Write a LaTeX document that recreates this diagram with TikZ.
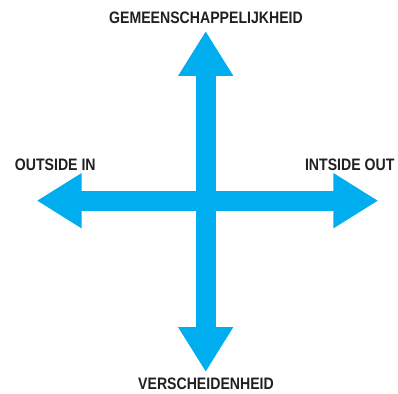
\documentclass[tikz,border=0pt]{standalone}
\usepackage{fontspec}
\newfontfamily\lblfont{Liberation Sans}[FakeStretch=0.85]
\usetikzlibrary{arrows.meta}
\definecolor{arrowcyan}{RGB}{0,174,239}
\definecolor{textdark}{RGB}{35,31,32}
\tikzset{
  bigarrow/.style={draw=arrowcyan, line width=20pt,
    {Triangle[width=52pt,length=45pt]}-{Triangle[width=52pt,length=45pt]}},
  axislabel/.style={inner sep=0pt, anchor=base, text=textdark,
    font=\lblfont\bfseries\fontsize{16.6}{18}\selectfont}
}
\begin{document}
\begin{tikzpicture}[x=1pt,y=-1pt]
\useasboundingbox (0,0) rectangle (398,393);
\coordinate (top) at (205.7,31);
\coordinate (bottom) at (205.7,372);
\coordinate (left) at (36.7,200.7);
\coordinate (right) at (378.3,200.7);
\draw[bigarrow] (left) -- (right);
\draw[bigarrow] (top) -- (bottom);
\node[axislabel] (ltop) at (206,23.5) {GEMEENSCHAPPELIJKHEID};
\node[axislabel] (lbottom) at (206,389.3) {VERSCHEIDENHEID};
\node[axislabel] (lleft) at (55.3,170.7) {OUTSIDE IN};
\node[axislabel] (lright) at (349.7,170.7) {INTSIDE OUT};
\end{tikzpicture}
\end{document}
